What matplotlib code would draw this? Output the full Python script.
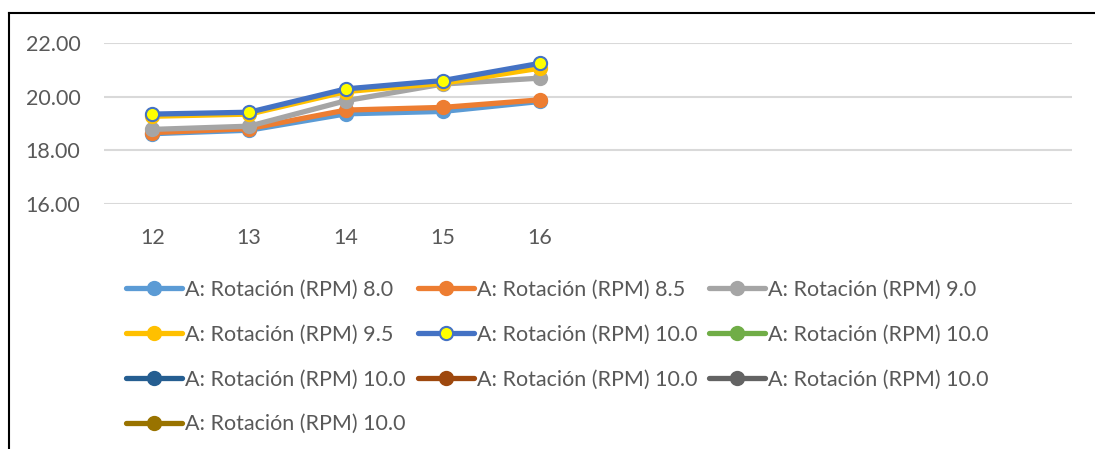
import matplotlib.pyplot as plt
from matplotlib.lines import Line2D

plt.rcParams['font.family'] = ['Lato', 'DejaVu Sans']

# categories (Excel range holds 10 slots, only first five labelled)
categories = ['12', '13', '14', '15', '16', '', '', '', '', '']

labels = ['A: Rotación (RPM) 8.0', 'A: Rotación (RPM) 8.5', 'A: Rotación (RPM) 9.0',
          'A: Rotación (RPM) 9.5', 'A: Rotación (RPM) 10.0', 'A: Rotación (RPM) 10.0',
          'A: Rotación (RPM) 10.0', 'A: Rotación (RPM) 10.0', 'A: Rotación (RPM) 10.0',
          'A: Rotación (RPM) 10.0']

rpm_8_0 = [18.62, 18.75, 19.36, 19.45, 19.82]
rpm_8_5 = [18.66, 18.81, 19.50, 19.60, 19.88]
rpm_9_0 = [18.78, 18.90, 19.85, 20.47, 20.69]
rpm_9_5 = [19.27, 19.35, 20.19, 20.50, 21.06]
rpm_10_0 = [19.35, 19.42, 20.29, 20.60, 21.24]
empty = []

series = [rpm_8_0, rpm_8_5, rpm_9_0, rpm_9_5, rpm_10_0, empty, empty, empty, empty, empty]
colors = ['#5B9BD5', '#ED7D31', '#A5A5A5', '#FFC000', '#4472C4',
          '#70AD47', '#255E91', '#9E480E', '#636363', '#997300']

fig = plt.figure(figsize=(10.95, 4.49), dpi=100)
ax = fig.add_axes([104/1095, 1-204/449, (1072-104)/1095, (204-43)/449])

handles = []
for i, (vals, c) in enumerate(zip(series, colors)):
    x = list(range(len(vals)))
    face = 'yellow' if i == 4 else c
    h, = ax.plot(x, vals, color=c, lw=3.8, marker='o', ms=9.5,
                 markerfacecolor=face, markeredgecolor=c, markeredgewidth=1.5,
                 solid_capstyle='round', label=labels[i])
    handles.append(h)

ax.set_xlim(-0.5, len(categories) - 0.5)
ax.set_ylim(16, 22)
ax.set_yticks([16, 18, 20, 22])
ax.set_yticklabels(['%.2f' % v for v in [16, 18, 20, 22]])
ax.set_xticks(range(len(categories)))
ax.set_xticklabels(categories)
ax.tick_params(length=0, labelsize=15.5, labelcolor='#595959')
ax.tick_params(axis='y', pad=17)
ax.tick_params(axis='x', pad=17)
ax.grid(axis='y', color='#D9D9D9', lw=1.5)
ax.set_axisbelow(True)
for s in ax.spines.values():
    s.set_visible(False)

# Excel fills legend row by row; matplotlib fills by column
order = [0, 3, 6, 9, 1, 4, 7, 2, 5, 8]
leg = fig.legend([handles[k] for k in order], [labels[k] for k in order],
                 ncol=3, loc='upper left', bbox_to_anchor=(126/1095, 1-280/449),
                 frameon=False, fontsize=15.5, labelcolor='#595959',
                 handlelength=2.6, handletextpad=0.15, columnspacing=0.55,
                 labelspacing=1.15, borderaxespad=0, borderpad=0)

# chart border (only left and top visible in crop)
fig.add_artist(Line2D([9/1095, 9/1095], [0, 1-13/449], color='black', lw=1.5))
fig.add_artist(Line2D([9/1095, 1], [1-13/449, 1-13/449], color='black', lw=1.5))

fig.savefig('out.png', dpi=100)
